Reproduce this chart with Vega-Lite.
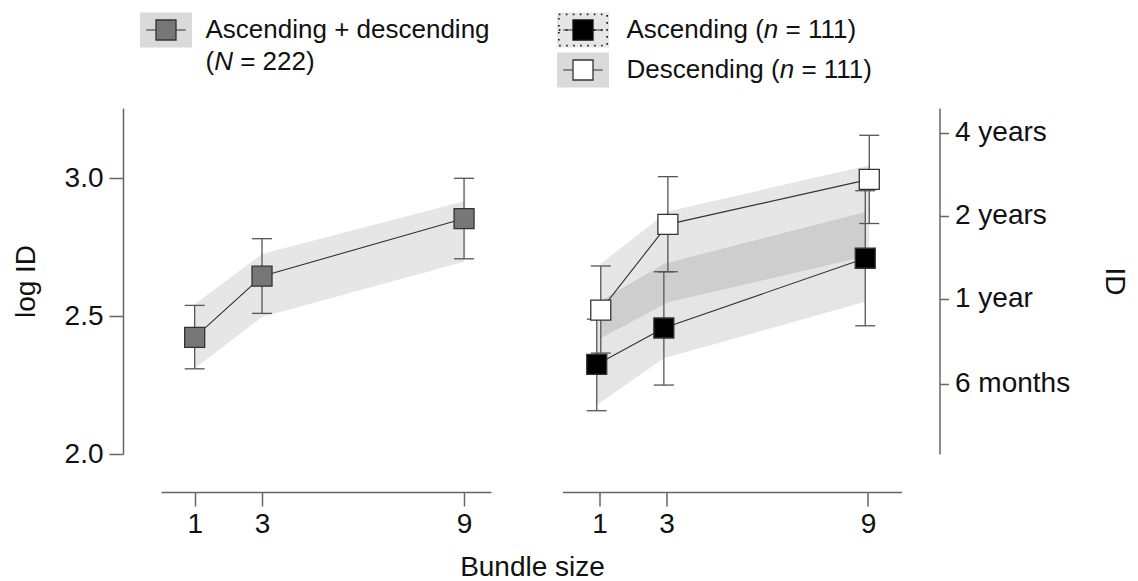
{
  "$schema": "https://vega.github.io/schema/vega-lite/v6.json",
  "background": "white",
  "padding": {"left": 12, "top": 8, "right": 5, "bottom": 0},
  "columns": 2,
  "bounds": "flush",
  "align": "each",
  "spacing": {"row": 20, "column": 71.5},
  "datasets": {
    "points": [
      {"panel": "pooled", "series": "Ascending + descending", "bundle": 1, "pos": 1, "mean": 2.423, "lo": 2.309, "hi": 2.539},
      {"panel": "pooled", "series": "Ascending + descending", "bundle": 3, "pos": 3, "mean": 2.645, "lo": 2.51, "hi": 2.781},
      {"panel": "pooled", "series": "Ascending + descending", "bundle": 9, "pos": 9, "mean": 2.854, "lo": 2.708, "hi": 3.0},
      {"panel": "split", "series": "Ascending", "bundle": 1, "pos": 0.92, "mean": 2.325, "lo": 2.157, "hi": 2.489},
      {"panel": "split", "series": "Ascending", "bundle": 3, "pos": 2.92, "mean": 2.457, "lo": 2.25, "hi": 2.661},
      {"panel": "split", "series": "Ascending", "bundle": 9, "pos": 8.92, "mean": 2.71, "lo": 2.465, "hi": 2.955},
      {"panel": "split", "series": "Descending", "bundle": 1, "pos": 1.04, "mean": 2.522, "lo": 2.366, "hi": 2.682},
      {"panel": "split", "series": "Descending", "bundle": 3, "pos": 3.04, "mean": 2.833, "lo": 2.661, "hi": 3.006},
      {"panel": "split", "series": "Descending", "bundle": 9, "pos": 9.04, "mean": 2.996, "lo": 2.836, "hi": 3.156}
    ],
    "bands": [
      {"series": "Ascending + descending", "pos": 1, "blo": 2.31, "bhi": 2.543},
      {"series": "Ascending + descending", "pos": 3, "blo": 2.497, "bhi": 2.725},
      {"series": "Ascending + descending", "pos": 9, "blo": 2.697, "bhi": 2.917},
      {"series": "Descending", "pos": 1.04, "blo": 2.42, "bhi": 2.69},
      {"series": "Descending", "pos": 3.04, "blo": 2.55, "bhi": 2.88},
      {"series": "Descending", "pos": 9.04, "blo": 2.72, "bhi": 3.047},
      {"series": "Ascending", "pos": 0.92, "blo": 2.178, "bhi": 2.547},
      {"series": "Ascending", "pos": 2.92, "blo": 2.347, "bhi": 2.69},
      {"series": "Ascending", "pos": 8.92, "blo": 2.552, "bhi": 2.878}
    ],
    "legend": [
      {"panel": "pooled", "series": "Ascending + descending", "row": 0, "line1": "Ascending + descending", "pre": "(", "ital": "N", "post": "= 222)"},
      {"panel": "split", "series": "Ascending", "row": 0, "pre": "Ascending (", "ital": "n", "post": "= 111)"},
      {"panel": "split", "series": "Descending", "row": 1, "pre": "Descending (", "ital": "n", "post": "= 111)"}
    ]
  },
  "concat": [
    {
      "width": 330,
      "height": 80,
      "data": {"name": "legend"},
      "transform": [{"filter": "datum.panel == 'pooled'"}],
      "encoding": {
        "x": {"datum": 0, "type": "quantitative", "scale": {"domain": [-5, 325], "nice": false, "zero": false}, "axis": null},
        "y": {"field": "row", "type": "quantitative", "scale": {"domain": [-0.55, 1.45], "reverse": true, "nice": false, "zero": false}, "axis": null}
      },
      "layer": [
        {"mark": {"type": "point", "shape": "M-1,-0.673L1,-0.673L1,0.673L-1,0.673Z", "size": 2704, "filled": true, "fill": "#dadada", "strokeWidth": 0, "opacity": 1}},
        {"mark": {"type": "point", "shape": "M-0.76,0L0.76,0", "size": 2704, "filled": false, "stroke": "#333", "strokeWidth": 1.2, "opacity": 1}},
        {"mark": {"type": "point", "shape": "square", "size": 400, "filled": true, "fill": "#777777", "stroke": "#333", "strokeWidth": 1.3, "opacity": 1}},
        {"mark": {"type": "text", "align": "left", "baseline": "middle", "dx": 39.5, "fontSize": 26}, "encoding": {"text": {"field": "line1"}}},
        {"mark": {"type": "text", "align": "left", "baseline": "middle", "dx": 39.5, "dy": 32, "fontSize": 26}, "encoding": {"text": {"field": "pre"}}},
        {"mark": {"type": "text", "align": "left", "baseline": "middle", "dx": 48.2, "dy": 32, "fontSize": 26, "fontStyle": "italic"}, "encoding": {"text": {"field": "ital"}}},
        {"mark": {"type": "text", "align": "left", "baseline": "middle", "dx": 74.2, "dy": 32, "fontSize": 26}, "encoding": {"text": {"field": "post"}}}
      ]
    },
    {
      "width": 339,
      "height": 80,
      "data": {"name": "legend"},
      "transform": [{"filter": "datum.panel == 'split'"}],
      "encoding": {
        "x": {"datum": 0, "type": "quantitative", "scale": {"domain": [-20.5, 318.5], "nice": false, "zero": false}, "axis": null},
        "y": {"field": "row", "type": "quantitative", "scale": {"domain": [-0.55, 1.45], "reverse": true, "nice": false, "zero": false}, "axis": null}
      },
      "layer": [
        {"transform": [{"filter": "datum.series == 'Ascending'"}],
         "mark": {"type": "point", "shape": "M-1,-0.673L1,-0.673L1,0.673L-1,0.673Z", "size": 2704, "filled": true, "fill": "#e6e6e6", "strokeWidth": 0, "opacity": 1}},
        {"transform": [{"filter": "datum.series == 'Descending'"}],
         "mark": {"type": "point", "shape": "M-1,-0.673L1,-0.673L1,0.673L-1,0.673Z", "size": 2704, "filled": true, "fill": "#dadada", "strokeWidth": 0, "opacity": 1}},
        {"transform": [{"filter": "datum.series == 'Ascending'"}],
         "mark": {"type": "point", "shape": "M-0.93,-0.6L0.93,-0.6L0.93,0.6L-0.93,0.6Z", "size": 2704, "filled": false, "stroke": "#222", "strokeWidth": 1.8, "strokeDash": [1.6, 5.4], "opacity": 1}},
        {"transform": [{"filter": "datum.series == 'Ascending'"}],
         "mark": {"type": "point", "shape": "M-0.93,0L0.93,0", "size": 2704, "filled": false, "stroke": "#222", "strokeWidth": 1.8, "strokeDash": [1.6, 5.4], "opacity": 1}},
        {"mark": {"type": "point", "shape": "M-0.76,0L0.76,0", "size": 2704, "filled": false, "stroke": "#333", "strokeWidth": 1.2, "opacity": 1}},
        {"transform": [{"filter": "datum.series == 'Ascending'"}],
         "mark": {"type": "point", "shape": "square", "size": 400, "filled": true, "fill": "#000000", "stroke": "#111", "strokeWidth": 1.3, "opacity": 1}},
        {"transform": [{"filter": "datum.series == 'Descending'"}],
         "mark": {"type": "point", "shape": "square", "size": 400, "filled": true, "fill": "#ffffff", "stroke": "#333", "strokeWidth": 1.3, "opacity": 1}},
        {"mark": {"type": "text", "align": "left", "baseline": "middle", "dx": 43.5, "fontSize": 26}, "encoding": {"text": {"field": "pre"}}},
        {"transform": [{"filter": "datum.series == 'Ascending'"}],
         "mark": {"type": "text", "align": "left", "baseline": "middle", "dx": 180.8, "fontSize": 26, "fontStyle": "italic"}, "encoding": {"text": {"field": "ital"}}},
        {"transform": [{"filter": "datum.series == 'Ascending'"}],
         "mark": {"type": "text", "align": "left", "baseline": "middle", "dx": 202.5, "fontSize": 26}, "encoding": {"text": {"field": "post"}}},
        {"transform": [{"filter": "datum.series == 'Descending'"}],
         "mark": {"type": "text", "align": "left", "baseline": "middle", "dx": 196.7, "fontSize": 26, "fontStyle": "italic"}, "encoding": {"text": {"field": "ital"}}},
        {"transform": [{"filter": "datum.series == 'Descending'"}],
         "mark": {"type": "text", "align": "left", "baseline": "middle", "dx": 218.4, "fontSize": 26}, "encoding": {"text": {"field": "post"}}}
      ]
    },
    {
      "width": 330,
      "height": 346,
      "layer": [
        {
          "data": {"name": "bands"},
          "transform": [{"filter": "datum.series == 'Ascending + descending'"}],
          "mark": {"type": "area", "fill": "#e6e6e6", "opacity": 1},
          "encoding": {
            "x": {"field": "pos", "type": "quantitative", "scale": {"domain": [0, 9.8], "nice": false, "zero": false},
                  "axis": {"values": [1, 3, 9], "format": "d", "tickSize": 14, "labelPadding": 4, "title": "Bundle size", "titleX": 371, "titlePadding": 15}},
            "y": {"field": "blo", "type": "quantitative", "scale": {"domain": [2, 3.255], "nice": false, "zero": false},
                  "axis": {"values": [2, 2.5, 3], "format": ".1f", "tickSize": 14, "labelPadding": 6, "title": "log ID", "titlePadding": 24}},
            "y2": {"field": "bhi"}
          }
        },
        {
          "data": {"name": "points"},
          "transform": [{"filter": "datum.panel == 'pooled'"}],
          "mark": {"type": "rule", "color": "#555", "strokeWidth": 1.3},
          "encoding": {"x": {"field": "pos", "type": "quantitative"}, "y": {"field": "lo", "type": "quantitative"}, "y2": {"field": "hi"}}
        },
        {
          "data": {"name": "points"},
          "transform": [{"filter": "datum.panel == 'pooled'"}],
          "mark": {"type": "tick", "orient": "horizontal", "size": 20, "thickness": 1.3, "color": "#555", "opacity": 1},
          "encoding": {"x": {"field": "pos", "type": "quantitative"}, "y": {"field": "lo", "type": "quantitative"}}
        },
        {
          "data": {"name": "points"},
          "transform": [{"filter": "datum.panel == 'pooled'"}],
          "mark": {"type": "tick", "orient": "horizontal", "size": 20, "thickness": 1.3, "color": "#555", "opacity": 1},
          "encoding": {"x": {"field": "pos", "type": "quantitative"}, "y": {"field": "hi", "type": "quantitative"}}
        },
        {
          "data": {"name": "points"},
          "transform": [{"filter": "datum.panel == 'pooled'"}],
          "mark": {"type": "line", "color": "#333", "strokeWidth": 1.1},
          "encoding": {"x": {"field": "pos", "type": "quantitative"}, "y": {"field": "mean", "type": "quantitative"}}
        },
        {
          "data": {"name": "points"},
          "transform": [{"filter": "datum.panel == 'pooled'"}],
          "mark": {"type": "point", "shape": "square", "size": 400, "filled": true, "fill": "#777777", "stroke": "#333", "strokeWidth": 1.3, "opacity": 1},
          "encoding": {"x": {"field": "pos", "type": "quantitative"}, "y": {"field": "mean", "type": "quantitative"}}
        }
      ]
    },
    {
      "width": 339,
      "height": 346,
      "layer": [
        {
          "data": {"name": "bands"},
          "transform": [{"filter": "datum.series == 'Descending'"}],
          "mark": {"type": "area", "fill": "#e6e6e6", "opacity": 1},
          "encoding": {
            "x": {"field": "pos", "type": "quantitative", "scale": {"domain": [-0.1, 10], "nice": false, "zero": false},
                  "axis": {"values": [1, 3, 9], "format": "d", "tickSize": 14, "labelPadding": 4, "title": null}},
            "y": {"field": "blo", "type": "quantitative", "scale": {"domain": [2, 3.255], "nice": false, "zero": false},
                  "axis": {"orient": "right", "values": [2.25527, 2.56229, 2.86332, 3.16435], "labelExpr": "datum.value < 2.4 ? '6 months' : datum.value < 2.7 ? '1 year' : datum.value < 3 ? '2 years' : '4 years'", "tickSize": 9, "labelPadding": 6, "title": "ID", "titleAngle": 90, "titlePadding": 30}},
            "y2": {"field": "bhi"}
          }
        },
        {
          "data": {"name": "bands"},
          "transform": [{"filter": "datum.series == 'Ascending'"}],
          "mark": {"type": "area", "fill": "#000000", "opacity": 0.1},
          "encoding": {"x": {"field": "pos", "type": "quantitative"}, "y": {"field": "blo", "type": "quantitative"}, "y2": {"field": "bhi"}}
        },
        {
          "data": {"name": "points"},
          "transform": [{"filter": "datum.panel == 'split'"}],
          "mark": {"type": "rule", "color": "#555", "strokeWidth": 1.3},
          "encoding": {"x": {"field": "pos", "type": "quantitative"}, "y": {"field": "lo", "type": "quantitative"}, "y2": {"field": "hi"}}
        },
        {
          "data": {"name": "points"},
          "transform": [{"filter": "datum.panel == 'split'"}],
          "mark": {"type": "tick", "orient": "horizontal", "size": 20, "thickness": 1.3, "color": "#555", "opacity": 1},
          "encoding": {"x": {"field": "pos", "type": "quantitative"}, "y": {"field": "lo", "type": "quantitative"}}
        },
        {
          "data": {"name": "points"},
          "transform": [{"filter": "datum.panel == 'split'"}],
          "mark": {"type": "tick", "orient": "horizontal", "size": 20, "thickness": 1.3, "color": "#555", "opacity": 1},
          "encoding": {"x": {"field": "pos", "type": "quantitative"}, "y": {"field": "hi", "type": "quantitative"}}
        },
        {
          "data": {"name": "points"},
          "transform": [{"filter": "datum.panel == 'split'"}],
          "mark": {"type": "line", "color": "#333", "strokeWidth": 1.1},
          "encoding": {"x": {"field": "pos", "type": "quantitative"}, "y": {"field": "mean", "type": "quantitative"}, "detail": {"field": "series", "type": "nominal"}}
        },
        {
          "data": {"name": "points"},
          "transform": [{"filter": "datum.panel == 'split'"}],
          "mark": {"type": "point", "shape": "square", "size": 400, "filled": true, "stroke": "#333", "strokeWidth": 1.3, "opacity": 1},
          "encoding": {"x": {"field": "pos", "type": "quantitative"}, "y": {"field": "mean", "type": "quantitative"},
                       "fill": {"field": "series", "type": "nominal", "scale": {"domain": ["Ascending", "Descending"], "range": ["#000000", "#ffffff"]}, "legend": null}}
        }
      ]
    }
  ],
  "resolve": {"scale": {"x": "independent", "y": "independent", "fill": "independent"}},
  "config": {
    "view": {"stroke": null},
    "font": "Liberation Sans",
    "axis": {"labelFont": "Liberation Sans", "titleFont": "Liberation Sans", "labelFontSize": 28, "titleFontSize": 28, "titleFontWeight": "normal",
             "labelColor": "#111", "titleColor": "#111", "domainColor": "#666", "tickColor": "#666", "domainWidth": 1.5, "tickWidth": 1.5,
             "grid": false, "offset": 38, "labelOverlap": false},
    "text": {"font": "Liberation Sans", "fontSize": 26, "color": "#111"}
  }
}
